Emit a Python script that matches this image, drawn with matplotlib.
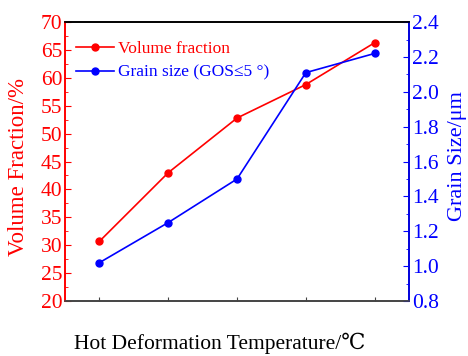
import matplotlib.pyplot as plt
import numpy as np

plt.rcParams['font.family'] = ['Liberation Serif', 'DejaVu Serif']
plt.rcParams['mathtext.fontset'] = 'stix'

# data
temps = [0, 1, 2, 3, 4]
volume_fraction = [30.7, 43.0, 52.8, 58.8, 66.3]
grain_size = [1.02, 1.25, 1.50, 2.11, 2.22]

fig = plt.figure(figsize=(4.68, 3.56), dpi=100)
ax1 = fig.add_axes([0.139, 0.1545, 0.735, 0.7835])
ax2 = ax1.twinx()

l1, = ax1.plot(temps, volume_fraction, 'o-', color='red', lw=1.2, ms=5,
               label='Volume fraction')
l2, = ax2.plot(temps, grain_size, 'o-', color='blue', lw=1.2, ms=5,
               label='Grain size (GOS≤5 °)')

ax1.set_xlim(-0.5, 4.5)
ax1.set_ylim(20, 70)
ax2.set_ylim(0.8, 2.4)
ax1.set_xticks(temps)
ax1.set_xticklabels([])
ax1.set_yticks(np.arange(20, 71, 5))
ax1.set_yticks(np.arange(22.5, 70, 5), minor=True)
ax2.set_yticks(np.arange(0.8, 2.41, 0.2))
ax2.set_yticks(np.arange(0.9, 2.4, 0.2), minor=True)
ax2.set_yticklabels([f'{v:.1f}' for v in np.arange(0.8, 2.41, 0.2)])

ax1.tick_params(axis='y', direction='in', colors='red', labelsize=15.5, length=4, pad=2)
ax1.tick_params(axis='y', which='minor', direction='in', colors='red', length=2)
ax1.tick_params(axis='x', direction='in', colors='#444444', length=3)
ax2.tick_params(axis='y', direction='in', colors='blue', labelsize=15.5, length=4, pad=2)
ax2.tick_params(axis='y', which='minor', direction='in', colors='blue', length=2)

ax1.spines['left'].set_color('red')
ax1.spines['bottom'].set_color('#444444')
ax1.spines['top'].set_color('black')
ax2.spines['right'].set_color('blue')
ax2.spines['left'].set_color('red')
ax2.spines['bottom'].set_color('#444444')
ax2.spines['top'].set_color('black')
for s in ['left', 'right', 'top', 'bottom']:
    ax1.spines[s].set_linewidth(1.2)
    ax2.spines[s].set_linewidth(1.2)

ax1.set_ylabel('Volume Fraction/%', color='red', fontsize=16.5)
ax1.yaxis.set_label_coords(-0.105, 0.48)
ax2.set_ylabel('Grain Size/μm', color='blue', fontsize=16)
ax2.yaxis.set_label_coords(1.113, 0.52)
ax1.set_xlabel('Hot Deformation Temperature/℃', fontsize=15.5)
ax1.xaxis.set_label_coords(0.45, -0.115)

leg = ax1.legend(handles=[l1, l2], loc='upper left', frameon=False, fontsize=12.5,
                 bbox_to_anchor=(-0.015, 0.99), handlelength=2.2, handletextpad=0.25,
                 labelspacing=0.46)
for txt, c in zip(leg.get_texts(), ['red', 'blue']):
    txt.set_color(c)

fig.savefig('out.png', dpi=100)
